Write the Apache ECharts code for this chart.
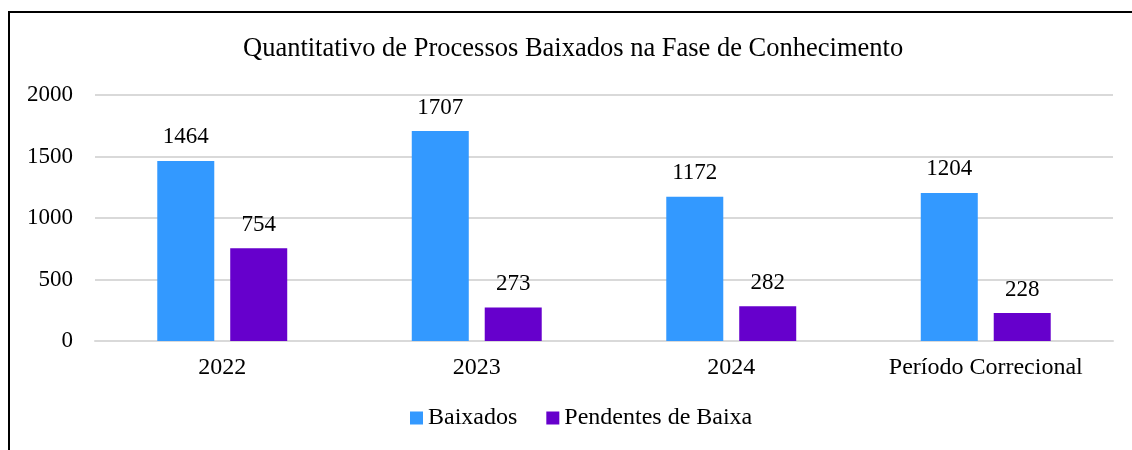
<!DOCTYPE html>
<html>
<head>
<meta charset="utf-8">
<script src="https://cdn.jsdelivr.net/npm/echarts@6/dist/echarts.min.js"></script>
<style>
  html, body { margin: 0; padding: 0; background: #fff; }
  #frame { position: absolute; left: 8px; top: 11px; width: 1130px; height: 450px;
           border-top: 2px solid #000; border-left: 2px solid #000; box-sizing: border-box; }
  #chart { position: absolute; left: 0; top: 0; width: 1132px; height: 450px; }
</style>
</head>
<body>
<div id="frame"></div>
<div id="chart"></div>
<script>
var categories = ['2022', '2023', '2024', 'Período Correcional'];
var baixados = [1464, 1707, 1172, 1204];
var pendentes = [754, 273, 282, 228];
var seriesNames = ['Baixados', 'Pendentes de Baixa'];
var colors = ['#3399FF', '#6600CC'];
var font = "'Liberation Serif', 'Times New Roman', serif";
var textColor = '#000000';

var labelStyle = {
    show: true,
    position: 'top',
    distance: 12,
    color: textColor,
    fontFamily: font,
    fontSize: 23
};

var option = {
    title: {
        text: 'Quantitativo de Processos Baixados na Fase de Conhecimento',
        left: 238,
        top: 31,
        textStyle: { color: textColor, fontFamily: font, fontSize: 26.5, fontWeight: 'normal' }
    },
    legend: {
        data: seriesNames,
        bottom: 15,
        left: 405,
        icon: 'rect',
        itemWidth: 13,
        itemHeight: 13,
        itemGap: 29,
        textStyle: { color: textColor, fontFamily: font, fontSize: 24 }
    },
    grid: { left: 95, right: 19, top: 95, bottom: 109 },
    xAxis: {
        type: 'category',
        data: categories,
        axisLine: { lineStyle: { color: '#D9D9D9', width: 2 } },
        axisTick: { show: false },
        axisLabel: { color: textColor, fontFamily: font, fontSize: 24, margin: 15 }
    },
    yAxis: {
        type: 'value',
        min: 0,
        max: 2000,
        interval: 500,
        axisLine: { show: false },
        axisTick: { show: false },
        splitLine: { lineStyle: { color: '#D9D9D9', width: 2 } },
        axisLabel: {
            color: textColor, fontFamily: font, fontSize: 23, margin: 22,
            formatter: function (v) { return String(v); }
        }
    },
    series: [
        {
            name: seriesNames[0], type: 'bar', data: baixados,
            barWidth: 57, barGap: '28%',
            itemStyle: { color: colors[0] },
            label: labelStyle
        },
        {
            name: seriesNames[1], type: 'bar', data: pendentes,
            barWidth: 57,
            itemStyle: { color: colors[1] },
            label: labelStyle
        }
    ]
};

var myChart = echarts.init(document.getElementById('chart'));
myChart.setOption(option);
</script>
</body>
</html>
